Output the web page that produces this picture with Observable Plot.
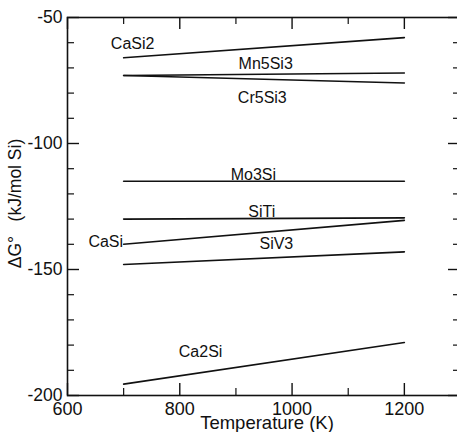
<!DOCTYPE html>
<html><head>
<meta charset="utf-8">
<script src="https://cdn.jsdelivr.net/npm/d3@7"></script>
<script src="https://cdn.jsdelivr.net/npm/@observablehq/plot@0.6"></script>
<style>body{margin:0;overflow:hidden;background:#fff}#chart{width:462px}</style>
</head><body><div id="chart"></div>
<script>
// Data
const compounds = ["CaSi2", "Mn5Si3", "Cr5Si3", "Mo3Si", "SiTi", "CaSi", "SiV3", "Ca2Si"];
const temps = [700, 1200];
const gStart = [-66, -73, -73, -115, -130, -140, -148, -195.5];
const gEnd = [-58, -72, -76, -115, -129.5, -130.5, -143, -179];
// label anchor points (data units)
const labelT = [716, 953, 947, 931, 946, 699, 972, 837];
const labelG = [-60.3, -68.3, -81.7, -112.3, -127, -138.9, -140, -182.5];
const labelAnchor = ["middle", "middle", "middle", "middle", "middle", "end", "middle", "middle"];
const xMajor = [600, 800, 1000, 1200];
const xMinor = [700, 900, 1100];
const yMajor = [-200, -150, -100, -50];
const yMinor = [-190, -180, -170, -160, -140, -130, -120, -110, -90, -80, -70, -60];

const W = 462, H = 432;
const mL = 67, mR = 2, mT = 17, mB = 37;
const fw = W - mL - mR, fh = H - mT - mB;

const rows = compounds.flatMap((c, i) => [
  {name: c, T: temps[0], G: gStart[i]},
  {name: c, T: temps[1], G: gEnd[i]}
]);
const labels = compounds.map((c, i) => ({name: c, T: labelT[i], G: labelG[i], anchor: labelAnchor[i]}));

const fmt = d => String(d);
const font = "'Liberation Sans', Arial, sans-serif";
const chart = Plot.plot({
  width: W, height: H,
  marginLeft: mL, marginRight: mR, marginTop: mT, marginBottom: mB,
  style: {fontFamily: font, background: "#fff", color: "#111"},
  x: {domain: [600, 1300]},
  y: {domain: [-200, -50]},
  marks: [
    Plot.frame({stroke: "#111", strokeWidth: 1.6}),
    Plot.axisX(xMajor, {tickSize: 0, tickPadding: 7, fontSize: 18, label: null, tickFormat: fmt}),
    Plot.axisY(yMajor, {tickSize: 0, tickPadding: 5, fontSize: 17.5, label: null, tickFormat: fmt}),
    // inward ticks
    Plot.tickX(xMajor, {x: d => d, insetTop: fh - 12, stroke: "#111", strokeWidth: 1.4}),
    Plot.tickX(xMinor, {x: d => d, insetTop: fh - 7, stroke: "#111", strokeWidth: 1.2}),
    Plot.tickX(xMajor, {x: d => d, insetBottom: fh - 12, stroke: "#111", strokeWidth: 1.4}),
    Plot.tickX(xMinor, {x: d => d, insetBottom: fh - 7, stroke: "#111", strokeWidth: 1.2}),
    Plot.tickY(yMajor, {y: d => d, insetRight: fw - 12, stroke: "#111", strokeWidth: 1.4}),
    Plot.tickY(yMinor, {y: d => d, insetRight: fw - 7, stroke: "#111", strokeWidth: 1.2}),
    Plot.tickY(yMajor, {y: d => d, insetLeft: fw - 12, stroke: "#111", strokeWidth: 1.4}),
    Plot.tickY(yMinor, {y: d => d, insetLeft: fw - 7, stroke: "#111", strokeWidth: 1.2}),
    Plot.line(rows, {x: "T", y: "G", z: "name", stroke: "#111", strokeWidth: 1.6}),
    Plot.text(labels.filter(d => d.anchor === "middle"), {x: "T", y: "G", text: "name", fontSize: 16, fill: "#111", textAnchor: "middle"}),
    Plot.text(labels.filter(d => d.anchor === "end"), {x: "T", y: "G", text: "name", fontSize: 16, fill: "#111", textAnchor: "end"}),
    Plot.text(["Temperature (K)"], {frameAnchor: "bottom", dy: 33, dx: 3, fontSize: 18.5, fill: "#111", text: d => d}),
    Plot.text(["ΔG°   (kJ/mol Si)"], {frameAnchor: "left", textAnchor: "middle", dx: -52, dy: -3, rotate: -90, fontSize: 17.5, fill: "#111", text: d => d})
  ]
});
document.getElementById("chart").append(chart);
</script>
</body></html>
